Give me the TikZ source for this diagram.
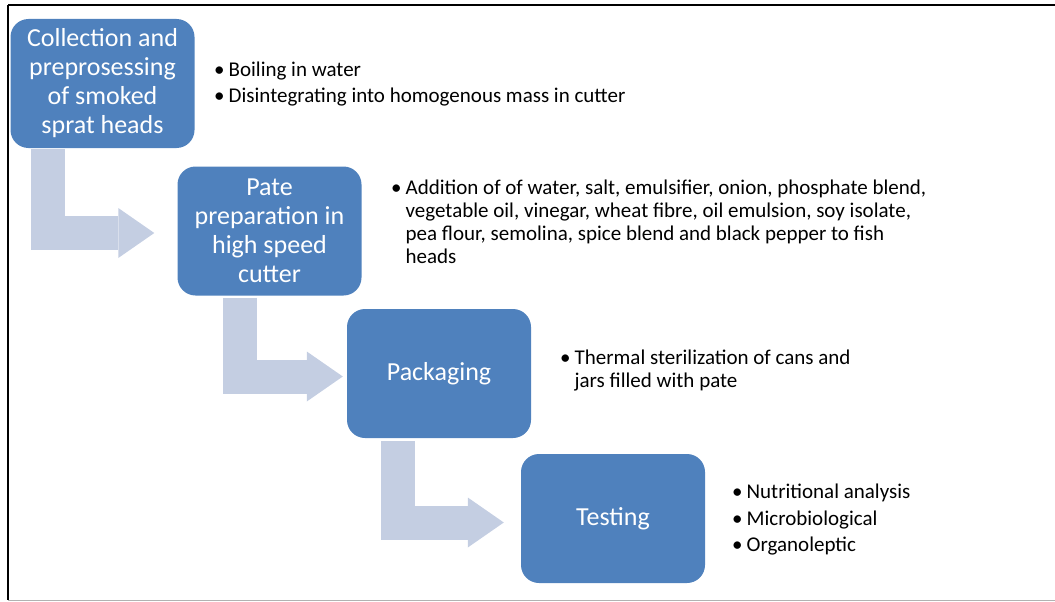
\documentclass[tikz,border=0pt]{standalone}
\usepackage{fontspec}
\setmainfont{Carlito}
\usetikzlibrary{positioning, arrows.meta}

\definecolor{stageblue}{HTML}{4F81BD}
\definecolor{flowgrey}{HTML}{C4CEE2}

\newcommand{\notebullet}{•\hspace{4pt}}
\newcommand{\noteindent}{\hphantom{\notebullet}}

\begin{document}
\begin{tikzpicture}[x=1pt, y=-1pt,
    stage/.style={rectangle, rounded corners=18pt, fill=stageblue, text=white,
        minimum width=184pt, minimum height=129pt, inner sep=0pt, align=center,
        font=\fontsize{26}{29}\selectfont},
    notes/.style={anchor=north west, inner sep=0pt, align=left,
        font=\fontsize{21}{23}\selectfont},
    flow/.style={flowgrey, line width=34pt, line join=miter,
        -{Triangle[length=36pt, width=50pt, line width=0pt]}}]

    \useasboundingbox (0,0) rectangle (1055,602);

    % frame
    \draw[line width=2.5pt] (8,5) -- (1055,5);
    \draw[line width=2.5pt] (8,5) -- (8,600);
    \draw[black!30, line width=1pt] (8,600) -- (1055,600);

    \node[stage] (collect) at (102.5,83.5) {Collection and\\preprosessing\\of smoked\\sprat heads};
    \node[stage] (prep) at (269.5,231) {Pate\\preparation in\\high speed\\cutter};
    \node[stage] (pack) at (439,373.5) {Packaging};
    \node[stage] (test) at (613,518.5) {Testing};

    \node[notes] (collectnotes) at (214,61.5) {\notebullet Boiling in water\\[3pt]
        \notebullet Disintegrating into homogenous mass in cutter};
    \node[notes] (prepnotes) at (391,179.5) {\notebullet Addition of of water, salt, emulsifier, onion, phosphate blend,\\
        \noteindent vegetable oil, vinegar, wheat fibre, oil emulsion, soy isolate,\\
        \noteindent pea flour, semolina, spice blend and black pepper to fish\\
        \noteindent heads};
    \node[notes] (packnotes) at (560,349.5) {\notebullet Thermal sterilization of cans and\\
        \noteindent jars filled with pate};
    \node[notes] (testnotes) at (732,484) {\notebullet Nutritional analysis\\[3.5pt]
        \notebullet Microbiological\\[3.5pt]
        \notebullet Organoleptic};

    % bent arrows between the stages
    \draw[flow] ([xshift=38pt, yshift=-1pt]collect.south west) |- ([xshift=-23pt, yshift=-2pt]prep.west);
    \draw[flow] ([xshift=63pt, yshift=-2pt]prep.south west) |- ([xshift=-4pt, yshift=-3pt]pack.west);
    \draw[flow] ([xshift=51.5pt, yshift=-3pt]pack.south west) |- ([xshift=-17pt, yshift=-4pt]test.west);

\end{tikzpicture}
\end{document}
